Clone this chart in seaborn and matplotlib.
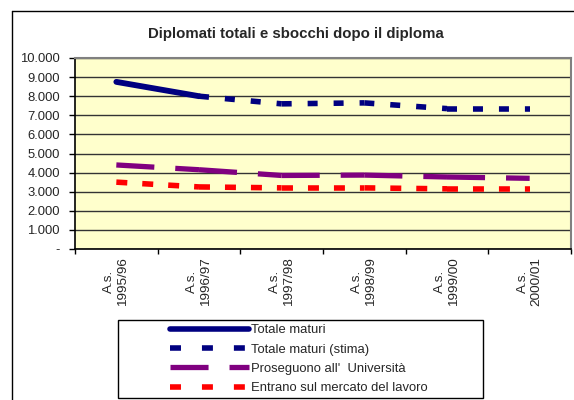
import matplotlib
matplotlib.use("Agg")
import matplotlib.pyplot as plt
import seaborn as sns
import numpy as np
from matplotlib.lines import Line2D
from matplotlib.patches import Rectangle

# ---- data ----
categories = ["A.s.\n1995/96", "A.s.\n1996/97", "A.s.\n1997/98",
              "A.s.\n1998/99", "A.s.\n1999/00", "A.s.\n2000/01"]
totale_maturi = [8750, 8000, None, None, None, None]
totale_stima = [None, 8000, 7600, 7650, 7350, 7350]
proseguono = [4400, 4150, 3850, 3870, 3770, 3700]
entrano = [3500, 3250, 3200, 3200, 3150, 3150]
ytick_values = [0, 1000, 2000, 3000, 4000, 5000, 6000, 7000, 8000, 9000, 10000]
ytick_labels = ["-", "1.000", "2.000", "3.000", "4.000", "5.000",
                "6.000", "7.000", "8.000", "9.000", "10.000"]
labels = ["Totale maturi", "Totale maturi (stima)",
          "Proseguono all'  Università", "Entrano sul mercato del lavoro"]
title = "Diplomati totali e sbocchi dopo il diploma"

sns.set_style("white")
plt.rcParams["font.family"] = ["Liberation Sans", "DejaVu Sans"]
plt.rcParams["lines.scale_dashes"] = False

W, H = 574, 400
fig = plt.figure(figsize=(W / 100, H / 100), dpi=100)
fig.patch.set_facecolor("white")

# outer chart frame
fig.add_artist(Line2D([12 / W, 12 / W], [0, 1 - 11 / H], transform=fig.transFigure,
                      color="black", lw=1))
fig.add_artist(Line2D([12 / W, 1], [1 - 11 / H, 1 - 11 / H], transform=fig.transFigure,
                      color="black", lw=1))

ax = fig.add_axes([75 / W, 1 - 249 / H, (571 - 75) / W, (249 - 58) / H])
ax.set_facecolor("#FFFFCC")

NAVY = "#000080"
PURPLE = "#800080"
RED = "#FF0000"

styles = {
    "solid": dict(color=NAVY, lw=4.2, linestyle="-", solid_capstyle="round"),
    "stima": dict(color=NAVY, lw=4.0, linestyle=(0, (7.2, 11.5)), dash_capstyle="butt"),
    "pros": dict(color=PURPLE, lw=3.8, linestyle=(0, (27.4, 15.1)), dash_capstyle="butt"),
    "entr": dict(color=RED, lw=4.0, linestyle=(0, (7.9, 10.8)), dash_capstyle="butt"),
}

def draw_series(vals, style):
    # Excel restarts the dash pattern at every data point: draw segment by segment
    for i in range(len(vals) - 1):
        if vals[i] is None or vals[i + 1] is None:
            continue
        sns.lineplot(x=[i, i + 1], y=[vals[i], vals[i + 1]], ax=ax,
                     legend=False, **style)

draw_series(entrano, styles["entr"])
draw_series(proseguono, styles["pros"])
draw_series(totale_stima, styles["stima"])
draw_series(totale_maturi, styles["solid"])

ax.set_xlim(-0.5, 5.5)
ax.set_ylim(0, 10000)
ax.set_yticks(ytick_values)
ax.set_yticklabels(ytick_labels)
ax.yaxis.grid(True, color="#333333", lw=1)
ax.xaxis.grid(False)
ax.set_axisbelow(True)
ax.set_xlabel("")
ax.set_ylabel("")

ax.set_xticks(np.arange(-0.5, 6, 1))
ax.set_xticklabels([])
ax.set_xticks(range(len(categories)), minor=True)
ax.set_xticklabels(categories, minor=True, rotation=90, va="top", ha="center",
                   multialignment="center", fontsize=9.7)
ax.tick_params(axis="x", which="major", direction="out", length=3.5, width=1,
               color="black", bottom=True)
ax.tick_params(axis="x", which="minor", length=0, pad=6)
ax.tick_params(axis="y", direction="out", length=4.3, width=1, pad=6.5,
               labelsize=9.4, left=True, color="black")

for side in ["top", "right"]:
    ax.spines[side].set_color("#808080")
    ax.spines[side].set_linewidth(1.5)
for side in ["left", "bottom"]:
    ax.spines[side].set_color("black")
    ax.spines[side].set_linewidth(1.2)

fig.text(295.5 / W, 1 - 34 / H, title, ha="center", va="center",
         fontweight="bold", fontsize=10.8)

# legend box
fig.add_artist(Rectangle((118 / W, 1 - 398 / H), 365 / W, 78 / H,
                         transform=fig.transFigure, facecolor="white",
                         edgecolor="black", lw=1))
handles = [
    Line2D([], [], color=NAVY, lw=4.0, solid_capstyle="round"),
    Line2D([], [], color=NAVY, lw=4.0, linestyle=(0, (7.9, 15.1)), dash_capstyle="butt"),
    Line2D([], [], color=PURPLE, lw=3.8, linestyle=(0, (27.4, 15.1)), dash_capstyle="butt"),
    Line2D([], [], color=RED, lw=4.0, linestyle=(0, (7.9, 15.1)), dash_capstyle="butt"),
]
fig.legend(handles, labels, loc="upper left", bbox_to_anchor=(170 / W, 1 - 324 / H),
           frameon=False, borderpad=0, borderaxespad=0, handlelength=6.05,
           handletextpad=0.12, labelspacing=0.56, fontsize=9.4)

fig.savefig("out.png", dpi=100)
